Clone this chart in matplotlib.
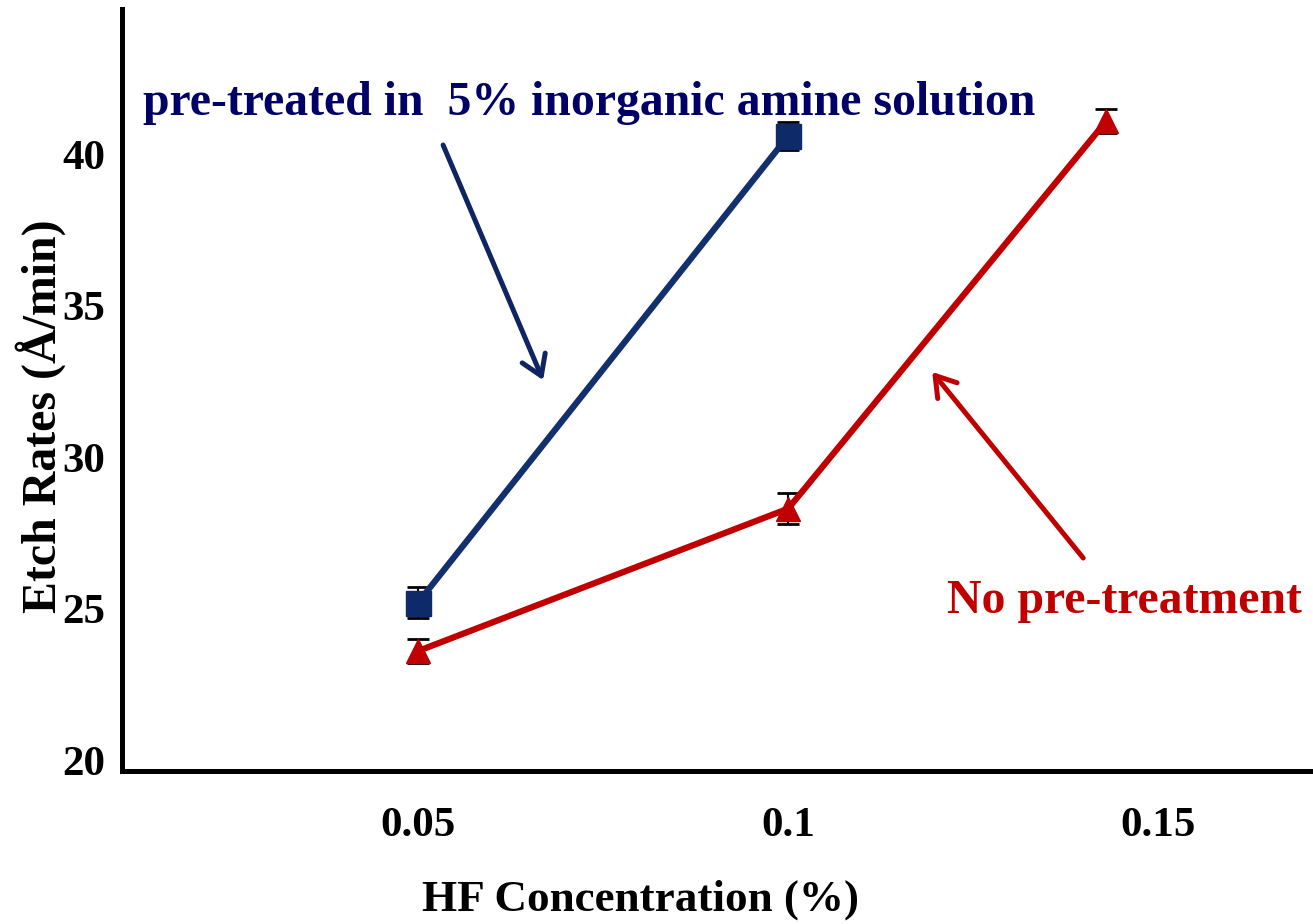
import matplotlib
matplotlib.use("Agg")
import matplotlib.pyplot as plt

plt.rcParams['font.family'] = ['Liberation Serif', 'DejaVu Serif']
plt.rcParams['font.weight'] = 'bold'

# etch rate data (Å/min) vs HF concentration (%)
hf_treated = [0.05, 0.1]
rate_treated = [25.2, 40.6]
err_treated = [0.5, 0.45]

hf_untreated = [0.05, 0.1, 0.143]
rate_untreated = [23.6, 28.3, 41.1]
err_untreated = [0.4, 0.5, 0.4]

x_ticks = [0.05, 0.1, 0.15]
x_tick_labels = ["0.05", "0.1", "0.15"]
y_ticks = [20, 25, 30, 35, 40]

navy = "#13306e"
red = "#c00000"

fig = plt.figure(figsize=(13.13, 9.24), dpi=100)
ax = fig.add_axes([122 / 1313, (924 - 771) / 924, (1313 - 122) / 1313, (771 - 9) / 924])

ax.errorbar(hf_treated, rate_treated, yerr=err_treated, fmt='none', ecolor='black',
            elinewidth=1.5, capsize=8, capthick=2, zorder=2)
ax.errorbar(hf_untreated, rate_untreated, yerr=err_untreated, fmt='none', ecolor='black',
            elinewidth=1.5, capsize=8, capthick=2, zorder=2)
ax.plot(hf_treated, rate_treated, '-s', color=navy, lw=4.5, ms=18,
        markerfacecolor="#0f2a68", markeredgecolor="#0f2a68", zorder=3)
ax.plot(hf_untreated, rate_untreated, '-^', color=red, lw=4.5, ms=17,
        markerfacecolor=red, markeredgecolor=red, zorder=3)

ax.set_xlim(0.0100, 0.1709)
ax.set_ylim(19.64, 44.79)
ax.set_xticks(x_ticks)
ax.set_xticklabels(x_tick_labels)
ax.set_yticks(y_ticks)

for side in ['top', 'right']:
    ax.spines[side].set_visible(False)
for side in ['left', 'bottom']:
    ax.spines[side].set_linewidth(3.6)
    ax.spines[side].set_color('black')

ax.tick_params(axis='both', length=0, labelsize=31)
ax.tick_params(axis='x', pad=26)
ax.tick_params(axis='y', pad=12)

ax.set_xlabel("HF Concentration (%)", fontsize=32.5, fontweight='bold')
ax.xaxis.set_label_coords(0.435, -0.143)
ax.set_ylabel("Etch Rates (Å/min)", fontsize=34.5, fontweight='bold')
ax.yaxis.set_label_coords(-0.047, 0.466)

ax.text(0.01284, 41.29, "pre-treated in  5% inorganic amine solution", color="#000066",
        fontsize=34.4, fontweight='bold', ha='left', va='baseline')
ax.text(0.12149, 24.85, "No pre-treatment", color=red,
        fontsize=34.4, fontweight='bold', ha='left', va='baseline')

ax.annotate("", xy=(0.06689, 32.54), xytext=(0.05338, 40.30),
            arrowprops=dict(arrowstyle="->,head_length=0.7,head_width=0.45",
                            lw=3.6, color="#0f2460", mutation_scale=20,
                            shrinkA=0, shrinkB=0))
ax.annotate("", xy=(0.11946, 32.81), xytext=(0.13986, 26.67),
            arrowprops=dict(arrowstyle="->,head_length=0.7,head_width=0.45",
                            lw=3.6, color=red, mutation_scale=20,
                            shrinkA=0, shrinkB=0))

fig.savefig("out.png", dpi=100)
